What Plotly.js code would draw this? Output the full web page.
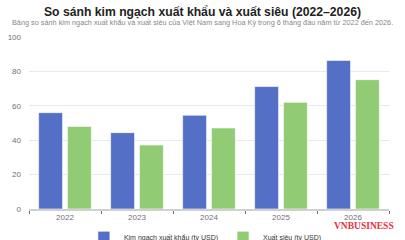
<!DOCTYPE html>
<html>
<head>
<meta charset="utf-8">
<script src="https://cdn.plot.ly/plotly-3.0.1.min.js"></script>
<style>html,body{margin:0;padding:0;background:#fff;}#chart{width:405px;height:240px;}</style>
</head>
<body>
<div id="chart"></div>
<script>
const years = ['2022', '2023', '2024', '2025', '2026'];
const exportValues = [56, 44.4, 54.5, 71.2, 86.4];
const surplusValues = [48, 37.2, 47.1, 62, 75.2];
const seriesNames = ['Kim ngạch xuất khẩu (tỷ USD)', 'Xuất siêu (tỷ USD)'];
const yTicks = [0, 20, 40, 60, 80, 100];

const FONT = '"Liberation Sans", Arial, sans-serif';

const data = [
  {type: 'bar', x: years, y: exportValues, name: seriesNames[0],
   marker: {color: '#5470c6', line: {color: 'rgba(255,255,255,0.6)', width: 1}},
   hoverinfo: 'none'},
  {type: 'bar', x: years, y: surplusValues, name: seriesNames[1],
   marker: {color: '#91cc75', line: {color: 'rgba(255,255,255,0.6)', width: 1}},
   hoverinfo: 'none'}
];

const layout = {
  width: 405, height: 240,
  margin: {l: 29, r: 16, t: 37, b: 31, pad: 0, autoexpand: false},
  paper_bgcolor: '#fff', plot_bgcolor: '#fff',
  font: {family: FONT, color: '#6e7079', size: 8},
  title: {text: '<b>So sánh kim ngạch xuất khẩu và xuất siêu (2022–2026)</b>',
          font: {family: FONT, size: 12.2, color: '#222'},
          x: 0.5, xanchor: 'center', xref: 'container', yref: 'container', y: 0.95, yanchor: 'middle'},
  barmode: 'group', bargap: 0.2, bargroupgap: 0.17,
  xaxis: {type: 'category', showgrid: false, showline: true, linecolor: '#d0d0d0', linewidth: 1.5,
          ticks: 'outside', tickson: 'boundaries', ticklen: 3, tickcolor: '#6e7079',
          tickfont: {size: 8, color: '#6e7079'}, zeroline: false, fixedrange: true},
  yaxis: {range: [0, 100], tickvals: yTicks, showgrid: true, gridcolor: '#e6e9f2', gridwidth: 1,
          zeroline: false, showline: false, ticks: '', ticklabelstandoff: 7,
          tickfont: {size: 8, color: '#6e7079'}, fixedrange: true},
  legend: {orientation: 'h', x: 0.49, xanchor: 'center', xref: 'paper', yref: 'paper', y: -0.08, yanchor: 'top',
           font: {size: 7, color: '#333'}, itemwidth: 30, tracegroupgap: 0, bgcolor: 'rgba(0,0,0,0)'},
  showlegend: true,
  annotations: [
    {text: 'Bảng so sánh kim ngạch xuất khẩu và xuất siêu của Việt Nam sang Hoa Kỳ trong 6 tháng đầu năm từ 2022 đến 2026.',
     xref: 'paper', yref: 'paper', x: 0.483, xanchor: 'center', y: 1.087, yanchor: 'middle',
     showarrow: false, font: {size: 7.3, color: '#888'}},
    {text: '<b>VNBUSINESS</b>', xref: 'paper', yref: 'paper', x: 1.02, xanchor: 'right', y: -0.1, yanchor: 'middle',
     showarrow: false, font: {family: '"Liberation Serif", "DejaVu Serif", serif', size: 9.5, color: '#e8303c'}}
  ]
};

Plotly.newPlot('chart', data, layout, {displayModeBar: false, staticPlot: true});
</script>
</body>
</html>
